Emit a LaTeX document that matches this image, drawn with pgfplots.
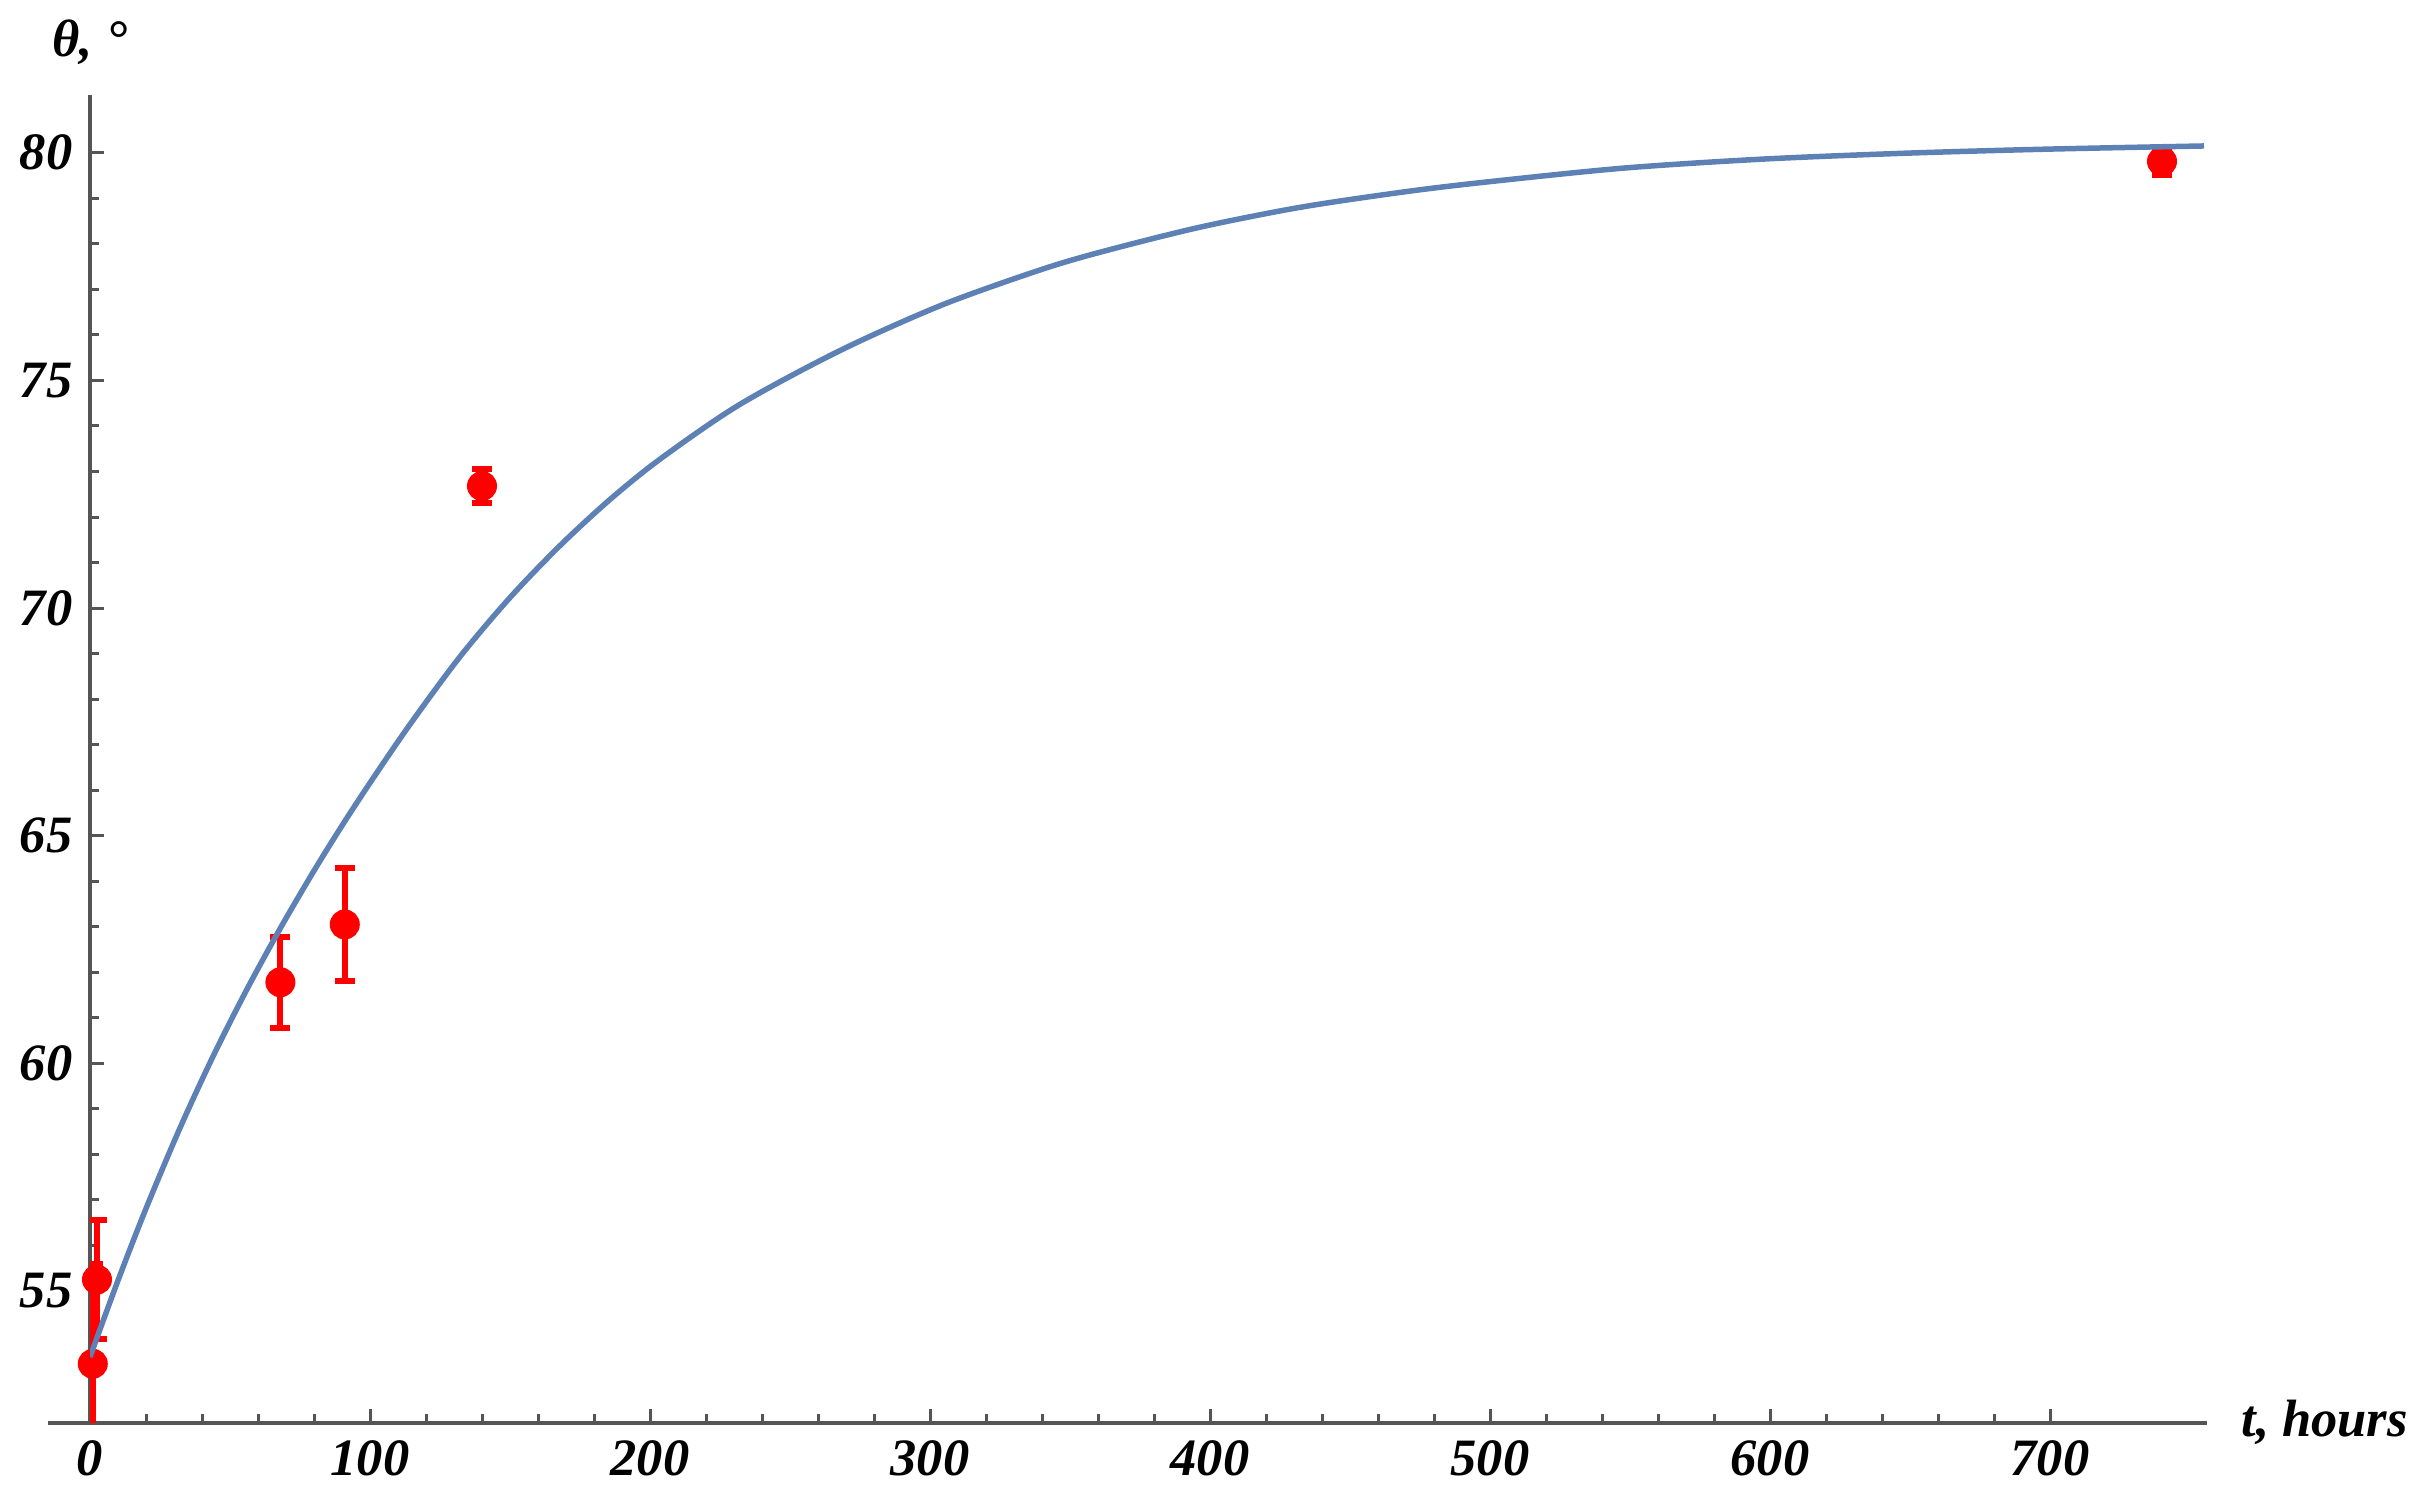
\documentclass[border=0pt]{standalone}
\usepackage{fontspec}
\setmainfont{Liberation Serif}
\usepackage{pgfplots}
\pgfplotsset{compat=1.18}
\definecolor{mblue}{HTML}{5E81B5}
\definecolor{axgray}{HTML}{555555}
\begin{document}
\begin{tikzpicture}
\path[use as bounding box] (0,0) rectangle (485.2pt,301.6pt);
\begin{axis}[
  at={(18pt,17pt)}, anchor=south west,
  scale only axis, width=423.36pt, height=265.6pt,
  xmin=0, xmax=756, ymin=52.1, ymax=81.27,
  separate axis lines,
  axis x line*=bottom, axis y line*=left,
  axis line style={-, axgray, line width=0.8pt},
  x axis line style={shorten <=-8.4pt},
  xtick pos=left, ytick pos=left,
  xtick={0,100,...,700}, ytick={55,60,...,80},
  minor x tick num=4, minor y tick num=4,
  tick align=inside,
  major tick length=2.8pt, minor tick length=1.8pt,
  tick style={axgray, line width=0.6pt},
  /pgf/number format/assume math mode=true,
  ticklabel style={font=\fontsize{10.5}{12}\selectfont\bfseries\itshape, text=black},
  clip mode=individual,
]
\addplot[only marks, red, mark=*, mark size=2.8pt, mark options={fill=red, draw=red},
  error bars/.cd, y dir=both, y explicit,
  error bar style={line width=1.2pt, red},
  error mark options={rotate=90, red, mark size=2pt, line width=1.2pt}]
  table[x=t, y=th, y error=e] {
t th e
1 53.4 2.2
2.5 55.25 1.3
68 61.78 1.0
91 63.05 1.25
140 72.68 0.37
740 79.81 0.3
};
\addplot[mblue, line width=1.1pt, smooth] table {
0 53.55
10 55.23
20 56.81
32 58.56
44 60.16
56 61.62
68 62.97
80 64.23
90 65.22
100 66.16
114 67.42
132 68.92
150 70.23
168 71.38
186 72.4
204 73.29
232 74.47
268 75.66
304 76.65
339 77.42
361 77.82
396 78.36
432 78.8
468 79.13
496 79.34
547 79.66
597 79.86
648 79.99
699 80.08
755 80.15
};
\node[anchor=base, yshift=7.6pt, font=\fontsize{10.5}{12}\selectfont\bfseries\itshape] at (axis cs:0,81.27) {θ, °};
\node[anchor=base west, xshift=3.4pt, yshift=-2.8pt, font=\fontsize{10.5}{12}\selectfont\bfseries\itshape] at (axis cs:756,52.1) {t, hours};
\end{axis}
\end{tikzpicture}
\end{document}
